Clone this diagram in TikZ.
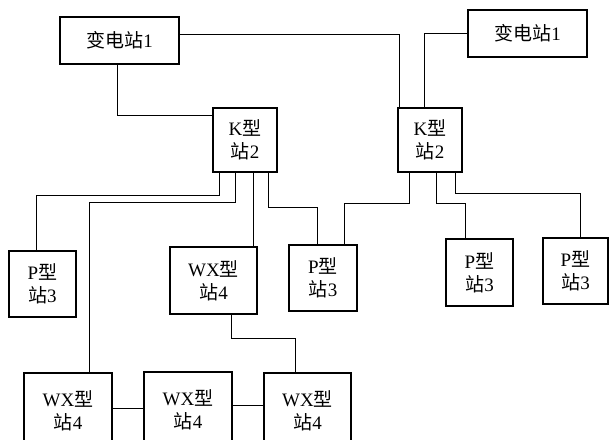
\documentclass[tikz,border=0pt]{standalone}
\usepackage{fontspec}
\setmainfont{Liberation Serif}
\newfontfamily\cjk{Noto Sans CJK SC}
\usetikzlibrary{calc}
\begin{document}
\begin{tikzpicture}[x=1pt,y=-1pt,
  stbox/.style={draw, line width=1.3pt, rectangle, inner sep=0pt, align=center,
    font=\fontsize{19}{23}\selectfont},
  conn/.style={line width=0.9pt}]
\useasboundingbox (0,0) rectangle (609,439);
\clip (0,0) rectangle (609,439);
% nodes
\node[stbox, minimum width=119pt, minimum height=47pt] (S1) at (119.5,40.5) {{\cjk 变电站}1};
\node[stbox, minimum width=119pt, minimum height=47pt] (S2) at (527.5,33.5) {{\cjk 变电站}1};
\node[stbox, minimum width=64pt, minimum height=64pt] (K1) at (245,140) {K{\cjk 型}\\{\cjk 站}2};
\node[stbox, minimum width=64pt, minimum height=64pt] (K2) at (430,140) {K{\cjk 型}\\{\cjk 站}2};
\node[stbox, minimum width=67pt, minimum height=66pt] (P1) at (42.5,284) {P{\cjk 型}\\{\cjk 站}3};
\node[stbox, minimum width=87pt, minimum height=67pt] (WXm) at (213.5,280.5) {WX{\cjk 型}\\{\cjk 站}4};
\node[stbox, minimum width=68pt, minimum height=66pt] (Pm) at (323,278) {P{\cjk 型}\\{\cjk 站}3};
\node[stbox, minimum width=67pt, minimum height=67pt] (Pr1) at (479.5,272.5) {P{\cjk 型}\\{\cjk 站}3};
\node[stbox, minimum width=65pt, minimum height=66pt] (Pr2) at (575.5,271) {P{\cjk 型}\\{\cjk 站}3};
\node[stbox, minimum width=88pt, minimum height=76pt] (B1) at (68,411) {WX{\cjk 型}\\{\cjk 站}4};
\node[stbox, minimum width=88pt, minimum height=76pt] (B2) at (188,410) {WX{\cjk 型}\\{\cjk 站}4};
\node[stbox, minimum width=87pt, minimum height=76pt] (B3) at (307.5,411) {WX{\cjk 型}\\{\cjk 站}4};
% connectors
\draw[conn] ($(S1.south)+(-2.5,0)$) |- ($(K1.north west)+(0,8)$);
\draw[conn] ($(S1.east)+(0,-6.5)$) -| ($(K2.north west)+(2,0)$);
\draw[conn] (S2.west) -| ($(K2.north west)+(27,0)$);
\draw[conn] ($(K1.south west)+(7,0)$) -- ++(0,23) -| ($(P1.north west)+(28,0)$);
\draw[conn] ($(K1.south west)+(23,0)$) -- ++(0,30) -| ($(B1.north west)+(66,0)$);
\draw[conn] ($(K1.south west)+(41,0)$) -- ($(WXm.north west)+(84,0)$);
\draw[conn] ($(K1.south west)+(56,0)$) -- ++(0,35) -| ($(Pm.north west)+(29,0)$);
\draw[conn] ($(K2.south west)+(12,0)$) -- ++(0,31) -| ($(Pm.north west)+(56,0)$);
\draw[conn] ($(K2.south west)+(39,0)$) -- ++(0,31) -| ($(Pr1.north west)+(20,0)$);
\draw[conn] ($(K2.south west)+(58,0)$) -- ++(0,21) -| ($(Pr2.north west)+(38,0)$);
\draw[conn] ($(WXm.south west)+(62,0)$) -- ++(0,24) -| ($(B3.north west)+(32,0)$);
\draw[conn] ($(B1.east)+(0,-3)$) -- ($(B2.west)+(0,-2)$);
\draw[conn] ($(B2.east)+(0,-5)$) -- ($(B3.west)+(0,-6)$);
\end{tikzpicture}
\end{document}
